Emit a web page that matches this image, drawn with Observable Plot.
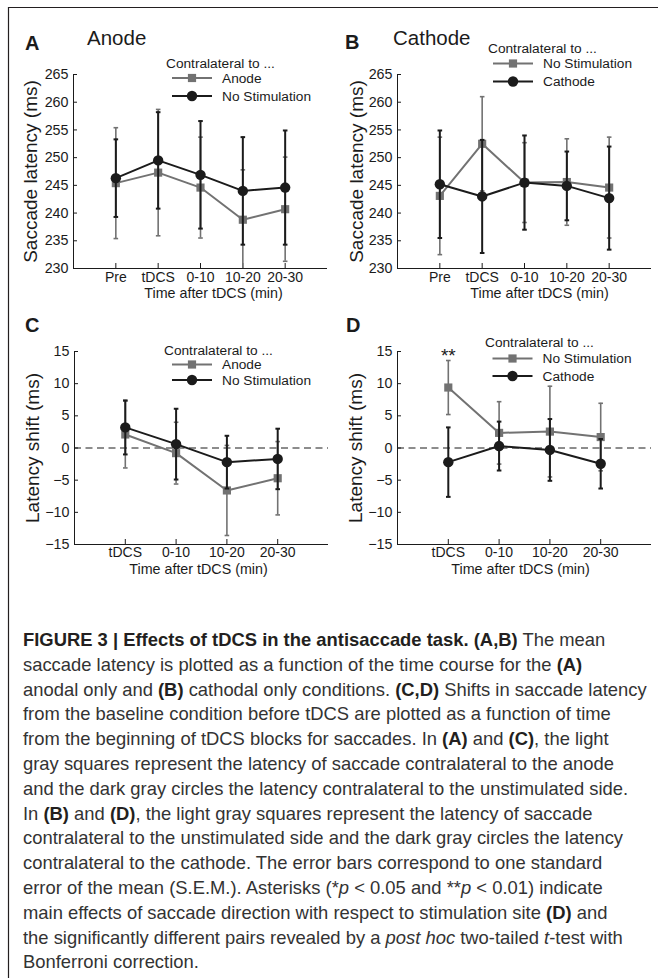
<!DOCTYPE html>
<html><head><meta charset="utf-8">
<script src="https://cdn.jsdelivr.net/npm/d3@7"></script>
<script src="https://cdn.jsdelivr.net/npm/@observablehq/plot@0.6"></script>
<style>
body{margin:0;background:#fff;}
#fig{position:relative;width:658px;height:978px;overflow:hidden;font-family:"Liberation Sans",Arial,Helvetica,sans-serif;color:#231f20;background:#fff;}
.pl{position:absolute;}
#overlay{position:absolute;left:0;top:0;pointer-events:none;}
.cap{position:absolute;left:23px;white-space:nowrap;font-size:18.4px;line-height:20px;color:#333;}
.cap b{color:#231f20;}
</style></head><body><div id="fig"></div>
<script>
// ---------- data ----------
const timeLabels = ["Pre", "tDCS", "0-10", "10-20", "20-30"];
const shiftLabels = ["tDCS", "0-10", "10-20", "20-30"];
const latencyTicks = [230, 235, 240, 245, 250, 255, 260, 265];
const shiftTicks = [-15, -10, -5, 0, 5, 10, 15];

// Panel A (anode): latency (ms), mean and S.E.M.
const aAnodeMean = [245.4, 247.3, 244.6, 238.8, 240.7];
const aAnodeSem = [10.0, 11.4, 9.1, 9.0, 9.4];
const aNoStimMean = [246.3, 249.5, 246.9, 244.0, 244.6];
const aNoStimSem = [7.0, 8.7, 9.7, 9.7, 10.3];
// Panel B (cathode)
const bNoStimMean = [243.1, 252.5, 245.5, 245.6, 244.6];
const bNoStimSem = [10.6, 8.5, 7.2, 7.8, 9.1];
const bCathodeMean = [245.2, 243.0, 245.5, 244.9, 242.7];
const bCathodeSem = [9.7, 10.2, 8.5, 6.2, 9.3];
// Panel C (anode, shift)
const cAnodeMean = [2.1, -0.8, -6.6, -4.7];
const cAnodeSem = [5.2, 4.8, 7.0, 5.7];
const cNoStimMean = [3.2, 0.6, -2.2, -1.7];
const cNoStimSem = [4.2, 5.5, 4.1, 4.7];
// Panel D (cathode, shift)
const dNoStimMean = [9.4, 2.35, 2.55, 1.7];
const dNoStimSem = [4.2, 4.85, 7.05, 5.25];
const dCathodeMean = [-2.2, 0.3, -0.3, -2.45];
const dCathodeSem = [5.4, 3.8, 4.8, 3.85];
const dSignif = ["**", "", "", ""];

const lightName = ["Anode", "No Stimulation", "Anode", "No Stimulation"];
const darkName = ["No Stimulation", "Cathode", "No Stimulation", "Cathode"];

// ---------- styles ----------
const GRAY = "#727272", DARK = "#1b1b1b";
const FONT = "'Liberation Sans', Arial, Helvetica, sans-serif";
const capSymbol = {draw(ctx, size) { const r = Math.sqrt(size / Math.PI); ctx.moveTo(-r, 0); ctx.lineTo(r, 0); }};

function rows(labels, mean, sem, extra) {
  return labels.map((l, i) => ({x: i + 1, m: mean[i], lo: mean[i] - sem[i], hi: mean[i] + sem[i], t: extra ? extra[i] : ""}));
}

function seriesMarks(data, color, symbol, r, lw, ew) {
  return [
    Plot.ruleX(data, {x: "x", y1: "lo", y2: "hi", stroke: color, strokeWidth: ew, clip: true}),
    Plot.dot(data, {x: "x", y: "lo", symbol: capSymbol, r: 2.3, stroke: color, strokeWidth: ew, clip: true}),
    Plot.dot(data, {x: "x", y: "hi", symbol: capSymbol, r: 2.3, stroke: color, strokeWidth: ew, clip: true}),
    Plot.line(data, {x: "x", y: "m", stroke: color, strokeWidth: lw}),
    Plot.dot(data, {x: "x", y: "m", symbol, r, fill: color, stroke: null})
  ];
}

function panel(o) {
  const n = o.labels.length;
  const light = rows(o.labels, o.lMean, o.lSem, o.signif);
  const dark = rows(o.labels, o.dMean, o.dSem);
  const marks = [
    Plot.ruleY([o.yDomain[0]], {stroke: DARK, strokeWidth: 1}),
    Plot.ruleX([0], {stroke: DARK, strokeWidth: 1}),
  ];
  if (o.zero) marks.push(Plot.ruleY([0], {stroke: DARK, strokeWidth: 1, strokeDasharray: "7,4.5"}));
  marks.push(
    Plot.axisX({ticks: d3.range(1, n + 1), tickFormat: d => o.labels[d - 1], tickSize: -5, tickPadding: o.xPad, label: null, fontSize: 14, stroke: DARK}),
    Plot.axisY({ticks: o.yTicks, tickSize: -4, tickPadding: 9, label: null, fontSize: 14.3, stroke: DARK}),
    ...seriesMarks(light, GRAY, "square", 4.6, 2, 1.6),
    ...seriesMarks(dark, DARK, "circle", 5.2, 2, 2),
    Plot.text([o.ylabel], {text: d => d, frameAnchor: "left", textAnchor: "middle", rotate: -90, dx: o.ylDx, fontSize: 19, fill: DARK}),
    Plot.text([o.xlabel], {text: d => d, frameAnchor: "bottom", textAnchor: "middle", dy: o.xlDy, dx: o.xlDx, fontSize: 14.3, fill: DARK})
  );
  if (o.signif) marks.push(Plot.text(light.filter(d => d.t), {x: "x", y: "hi", text: "t", dy: -5, fontSize: 19, fill: DARK}));
  const svg = Plot.plot({
    width: o.width, height: o.height,
    marginLeft: o.mL, marginRight: o.mR, marginTop: o.mT, marginBottom: o.mB,
    x: {type: "linear", domain: [0, n + 1]},
    y: {domain: o.yDomain},
    style: {fontFamily: FONT, fontSize: "14px", color: DARK, background: "transparent", overflow: "visible"},
    marks
  });
  svg.classList.add("pl");
  svg.style.left = o.left + "px";
  svg.style.top = o.top + "px";
  return svg;
}

const fig = document.getElementById("fig");
const common = {xlabel: "Time after tDCS (min)"};
fig.appendChild(panel({...common, labels: timeLabels, lMean: aAnodeMean, lSem: aAnodeSem, dMean: aNoStimMean, dSem: aNoStimSem,
  yDomain: [230, 265], yTicks: latencyTicks, ylabel: "Saccade latency (ms)", ylDx: -43, xlDy: 29.5, xlDx: 13, xPad: 8.5,
  left: 0, top: 0, width: 330, height: 305, mL: 73, mR: 3, mT: 74, mB: 37}));
fig.appendChild(panel({...common, labels: timeLabels, lMean: bNoStimMean, lSem: bNoStimSem, dMean: bCathodeMean, dSem: bCathodeSem,
  yDomain: [230, 265], yTicks: latencyTicks, ylabel: "Saccade latency (ms)", ylDx: -41, xlDy: 29.5, xlDx: 15, xPad: 8.5,
  left: 330, top: 0, width: 328, height: 305, mL: 67, mR: 7, mT: 74, mB: 37}));
fig.appendChild(panel({...common, labels: shiftLabels, lMean: cAnodeMean, lSem: cAnodeSem, dMean: cNoStimMean, dSem: cNoStimSem,
  yDomain: [-15, 15], yTicks: shiftTicks, ylabel: "Latency shift (ms)", ylDx: -42, xlDy: 29, xlDx: -3, xPad: 8, zero: true,
  left: 0, top: 300, width: 330, height: 280, mL: 74, mR: 2, mT: 51, mB: 36}));
fig.appendChild(panel({...common, labels: shiftLabels, lMean: dNoStimMean, lSem: dNoStimSem, dMean: dCathodeMean, dSem: dCathodeSem,
  yDomain: [-15, 15], yTicks: shiftTicks, ylabel: "Latency shift (ms)", ylDx: -42, xlDy: 29, xlDx: -4, xPad: 8, zero: true, signif: dSignif,
  left: 330, top: 300, width: 328, height: 280, mL: 67, mR: 7, mT: 51, mB: 36}));

// ---------- overlay: frame, panel letters, titles, legends ----------
const ov = d3.select(fig).append("svg").attr("id", "overlay").attr("width", 658).attr("height", 978)
  .style("font-family", FONT);
ov.append("line").attr("x1", 8).attr("x2", 658).attr("y1", 7.5).attr("y2", 7.5).attr("stroke", "#231f20").attr("stroke-width", 1.2);
ov.append("line").attr("x1", 8.5).attr("x2", 8.5).attr("y1", 7).attr("y2", 978).attr("stroke", "#231f20").attr("stroke-width", 1.2);

const letters = [["A", 25, 49.5], ["B", 345, 48.5], ["C", 25, 332], ["D", 346, 332]];
letters.forEach(([t, x, y]) => ov.append("text").attr("x", x).attr("y", y).attr("font-size", 20).attr("font-weight", "bold").attr("fill", DARK).text(t));
const titles = [["Anode", 87, 45], ["Cathode", 393, 45]];
titles.forEach(([t, x, y]) => ov.append("text").attr("x", x).attr("y", y).attr("font-size", 20.5).attr("fill", DARK).text(t));

const legends = [
  {x: 166, y: 63, r1: 78, r2: 96, lx: 172},
  {x: 488, y: 48, r1: 63.5, r2: 81.5, lx: 493},
  {x: 164, y: 350, r1: 364.5, r2: 380, lx: 172},
  {x: 485, y: 342.5, r1: 358.5, r2: 376, lx: 492.5}
];
legends.forEach((L, k) => {
  const g = ov.append("g").attr("font-size", 13.7).attr("fill", DARK);
  g.append("text").attr("x", L.x).attr("y", L.y).attr("dy", "0.35em").text("Contralateral to ...");
  [[L.r1, GRAY, "sq", lightName[k]], [L.r2, DARK, "ci", darkName[k]]].forEach(([yy, c, s, name]) => {
    g.append("line").attr("x1", L.lx).attr("x2", L.lx + 40).attr("y1", yy).attr("y2", yy).attr("stroke", c).attr("stroke-width", 2);
    if (s === "sq") g.append("rect").attr("x", L.lx + 20 - 4.1).attr("y", yy - 4.1).attr("width", 8.2).attr("height", 8.2).attr("fill", c);
    else g.append("circle").attr("cx", L.lx + 20).attr("cy", yy).attr("r", 5.2).attr("fill", c);
    g.append("text").attr("x", L.lx + 50).attr("y", yy).attr("dy", "0.35em").text(name);
  });
});

// ---------- caption ----------
const captionLines = [
  '<b>FIGURE 3 | Effects of tDCS in the antisaccade task. (A,B)</b> The mean',
  'saccade latency is plotted as a function of the time course for the <b>(A)</b>',
  'anodal only and <b>(B)</b> cathodal only conditions. <b>(C,D)</b> Shifts in saccade latency',
  'from the baseline condition before tDCS are plotted as a function of time',
  'from the beginning of tDCS blocks for saccades. In <b>(A)</b> and <b>(C)</b>, the light',
  'gray squares represent the latency of saccade contralateral to the anode',
  'and the dark gray circles the latency contralateral to the unstimulated side.',
  'In <b>(B)</b> and <b>(D)</b>, the light gray squares represent the latency of saccade',
  'contralateral to the unstimulated side and the dark gray circles the latency',
  'contralateral to the cathode. The error bars correspond to one standard',
  'error of the mean (S.E.M.). Asterisks (*<i>p</i> &lt; 0.05 and **<i>p</i> &lt; 0.01) indicate',
  'main effects of saccade direction with respect to stimulation site <b>(D)</b> and',
  'the significantly different pairs revealed by a <i>post hoc</i> two-tailed <i>t</i>-test with',
  'Bonferroni correction.'
];
captionLines.forEach((h, i) => {
  const d = document.createElement("div");
  d.className = "cap";
  d.style.top = (630 + 24.8 * i) + "px";
  d.innerHTML = h;
  fig.appendChild(d);
});
</script>
</body></html>
